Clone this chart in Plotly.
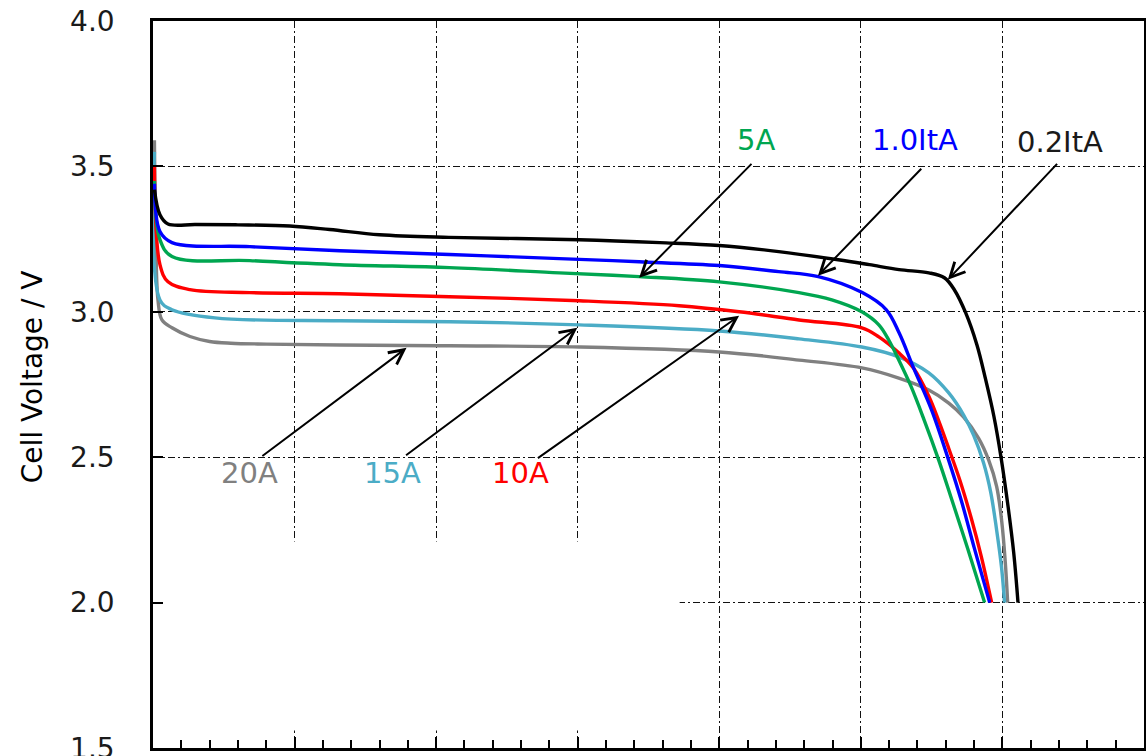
import plotly.graph_objects as go

# Discharge curves: cell voltage versus discharged capacity (capacity axis unlabeled, 0-7 divisions)
cap_02 = [0.01, 0.049, 0.106, 0.30, 0.60, 0.966, 1.248, 1.60, 2.09, 3.01, 3.58, 4.00, 4.42, 4.84, 5.06,
          5.27, 5.48, 5.59, 5.66, 5.74, 5.82, 5.88, 5.94, 5.99, 6.04, 6.08, 6.11]
v_02 = [3.42, 3.334, 3.302, 3.300, 3.299, 3.295, 3.283, 3.265, 3.256, 3.248, 3.238, 3.228, 3.207, 3.179,
        3.162, 3.145, 3.134, 3.117, 3.076, 2.997, 2.886, 2.770, 2.640, 2.500, 2.330, 2.170, 2.000]

cap_10 = [0.01, 0.049, 0.134, 0.684, 1.319, 2.094, 2.870, 3.434, 4.00, 4.42, 4.70, 5.01, 5.18, 5.27,
          5.37, 5.50, 5.62, 5.71, 5.80, 5.91]
v_10 = [3.44, 3.276, 3.238, 3.224, 3.210, 3.197, 3.183, 3.172, 3.159, 3.138, 3.121, 3.066, 3.007, 2.928,
        2.810, 2.662, 2.490, 2.350, 2.190, 2.000]

cap_5a = [0.01, 0.049, 0.134, 0.684, 1.319, 2.094, 2.870, 3.434, 4.00, 4.563, 4.795, 5.007, 5.127, 5.197,
          5.268, 5.353, 5.444, 5.550, 5.635, 5.755, 5.874]
v_5a = [3.45, 3.248, 3.190, 3.176, 3.162, 3.152, 3.134, 3.121, 3.103, 3.066, 3.041, 3.000, 2.955, 2.903,
        2.834, 2.745, 2.632, 2.490, 2.365, 2.185, 2.000]

cap_10a = [0.01, 0.049, 0.106, 0.261, 0.684, 1.319, 2.094, 3.011, 3.716, 4.140, 4.563, 5.007, 5.127,
           5.268, 5.374, 5.480, 5.550, 5.621, 5.700, 5.780, 5.850, 5.924]
v_10a = [3.50, 3.162, 3.103, 3.076, 3.066, 3.062, 3.052, 3.038, 3.021, 3.000, 2.972, 2.945, 2.914,
         2.859, 2.805, 2.710, 2.625, 2.530, 2.420, 2.290, 2.160, 2.000]

cap_15a = [0.01, 0.049, 0.134, 0.437, 1.319, 2.094, 3.011, 4.00, 4.563, 5.007, 5.268, 5.480, 5.621,
           5.726, 5.797, 5.867, 5.917, 5.959, 5.994, 6.015]
v_15a = [3.55, 3.041, 3.007, 2.979, 2.969, 2.966, 2.955, 2.934, 2.907, 2.879, 2.845, 2.790, 2.721,
         2.645, 2.575, 2.480, 2.380, 2.250, 2.120, 2.000]

cap_20a = [0.01, 0.021, 0.035, 0.063, 0.134, 0.261, 0.400, 0.550, 0.80, 1.319, 2.094, 3.011, 4.00, 4.563,
           5.007, 5.268, 5.480, 5.621, 5.726, 5.832, 5.903, 5.959, 5.995, 6.020, 6.037]
v_20a = [3.59, 3.214, 3.041, 2.972, 2.945, 2.915, 2.898, 2.892, 2.889, 2.886, 2.883, 2.879, 2.862, 2.834,
         2.807, 2.772, 2.731, 2.686, 2.638, 2.565, 2.490, 2.400, 2.280, 2.140, 2.000]

series_names = ["20A", "15A", "10A", "5A", "1.0ItA", "0.2ItA"]
series_cap = [cap_20a, cap_15a, cap_10a, cap_5a, cap_10, cap_02]
series_v = [v_20a, v_15a, v_10a, v_5a, v_10, v_02]
series_colors = ["#808080", "#4BACC6", "#FF0000", "#00A650", "#0000FF", "#000000"]

# label text position and arrow (tail -> tip on the curve), in data units
label_pos = {"5A": (4.26, 3.59), "1.0ItA": (5.38, 3.59), "0.2ItA": (6.41, 3.583),
             "20A": (0.684, 2.445), "15A": (1.693, 2.445), "10A": (2.595, 2.445)}
arrow_tail = {"5A": (4.238, 3.514), "1.0ItA": (5.437, 3.497), "0.2ItA": (6.396, 3.514),
              "20A": (0.762, 2.500), "15A": (1.777, 2.503), "10A": (2.708, 2.493)}
arrow_tip = {"5A": (3.434, 3.117), "1.0ItA": (4.697, 3.124), "0.2ItA": (5.614, 3.110),
             "20A": (1.791, 2.876), "15A": (2.997, 2.945), "10A": (4.140, 2.986)}
label_colors = {"5A": "#00A650", "1.0ItA": "#0000FF", "0.2ItA": "#1A1A1A",
                "20A": "#808080", "15A": "#4BACC6", "10A": "#FF0000"}

FONT = "DejaVu Sans"

fig = go.Figure()
for name, xs, ys, col in zip(series_names, series_cap, series_v, series_colors):
    fig.add_trace(go.Scatter(x=xs, y=ys, mode="lines", name=name,
                             line=dict(color=col, width=3.4, shape="spline", smoothing=1.0),
                             showlegend=False, hoverinfo="skip"))

annotations = []
for name in series_names:
    tx, ty = label_pos[name]
    annotations.append(dict(x=tx, y=ty, xref="x", yref="y", text=name, showarrow=False,
                            font=dict(family=FONT, size=29, color=label_colors[name])))
    (ax_, ay_), (hx, hy) = arrow_tail[name], arrow_tip[name]
    annotations.append(dict(x=hx, y=hy, ax=ax_, ay=ay_, xref="x", yref="y", axref="x", ayref="y",
                            text="", showarrow=True, arrowhead=5, arrowsize=1.45, arrowwidth=2,
                            arrowcolor="#000000", standoff=0, startstandoff=0))

annotations.append(dict(text="Cell Voltage / V", xref="paper", yref="paper", x=0, y=0.51,
                        xanchor="center", yanchor="middle", xshift=-121, textangle=-90,
                        showarrow=False, font=dict(family=FONT, size=28, color="#000000")))

fig.update_layout(
    template="none",
    width=1146, height=756,
    margin=dict(l=153, r=2, t=21, b=8),
    paper_bgcolor="white", plot_bgcolor="white",
    font=dict(family=FONT, color="#000000"),
    annotations=annotations,
    shapes=[dict(type="rect", xref="x", yref="y", x0=0, x1=3.72, y0=1.56, y1=2.21,
                 fillcolor="white", line=dict(width=0), layer="between")],
)

grid_dash = "7px,3px,2px,3px"
fig.update_xaxes(range=[0, 7], showticklabels=False, automargin=False,
                 showline=True, linecolor="#000000", linewidth=2.5, mirror=True,
                 ticks="inside", ticklen=11, tickwidth=1.5, tickcolor="#000000", dtick=1, tick0=0,
                 minor=dict(dtick=0.2, ticks="inside", ticklen=8, tickwidth=1.5, tickcolor="#000000",
                            showgrid=False),
                 showgrid=True, gridcolor="#111111", gridwidth=1.2, griddash=grid_dash, zeroline=False)
fig.update_yaxes(range=[1.5, 4.0], dtick=0.5, tick0=1.5, tickformat=".1f", automargin=False,
                 showline=True, linecolor="#000000", linewidth=2.5, mirror=True,
                 ticks="inside", ticklen=10, tickwidth=1.5, tickcolor="#000000",
                 ticklabelstandoff=30, ticklabeloverflow="allow",
                 tickfont=dict(family=FONT, size=28, color="#1A1A1A"),
                 showgrid=True, gridcolor="#111111", gridwidth=1.2, griddash=grid_dash, zeroline=False)

fig.write_html("out.html")
